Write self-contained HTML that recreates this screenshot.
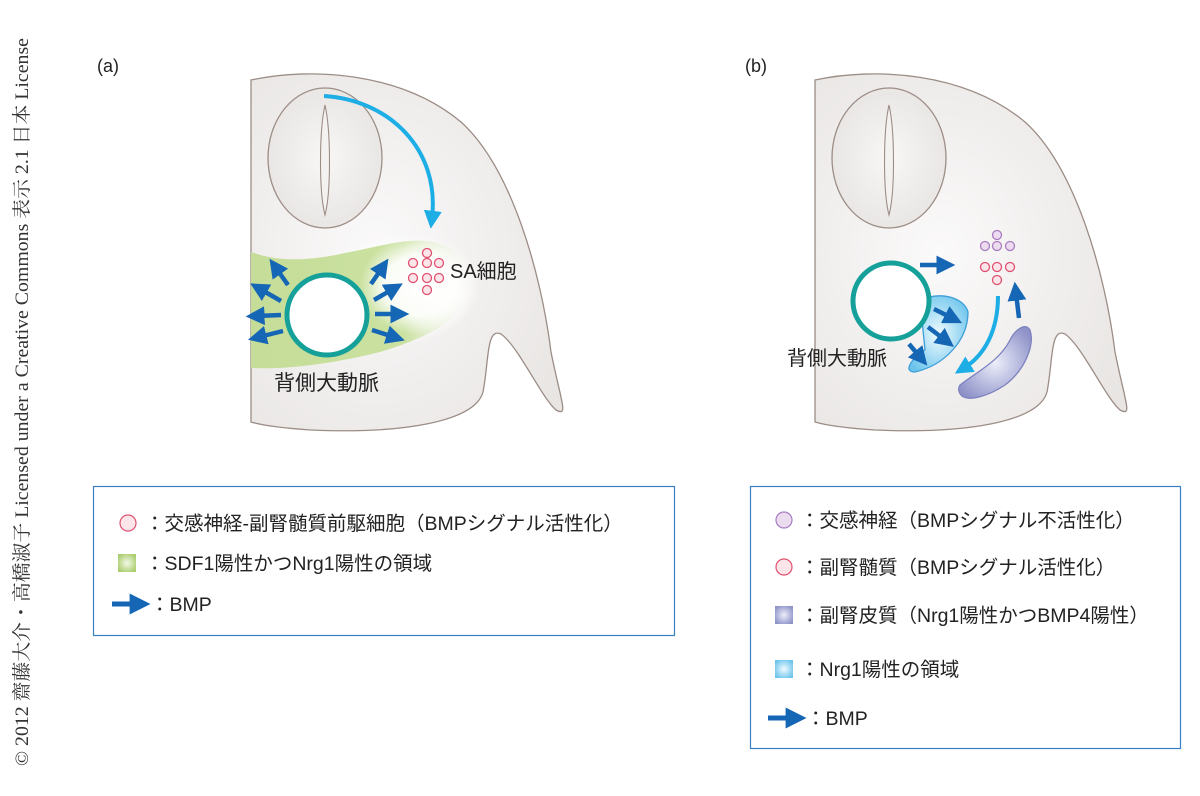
<!DOCTYPE html>
<html><head><meta charset="utf-8"><style>
body{margin:0;background:#fff;width:1200px;height:791px;overflow:hidden;font-family:"Liberation Sans","Noto Sans CJK JP",sans-serif}
</style></head><body>
<svg width="1200" height="791" viewBox="0 0 1200 791" xmlns="http://www.w3.org/2000/svg" font-family="Liberation Sans, Noto Sans CJK JP, sans-serif">
<defs>
<radialGradient id="bg" cx="0.4" cy="0.5" r="0.7"><stop offset="0" stop-color="#fbfafa"/><stop offset="1" stop-color="#e8e5e3"/></radialGradient>
<radialGradient id="nt" cx="0.5" cy="0.5" r="0.6"><stop offset="0" stop-color="#f8f7f6"/><stop offset="1" stop-color="#e6e3e1"/></radialGradient>
<radialGradient id="wh" cx="0.5" cy="0.5" r="0.5"><stop offset="0" stop-color="#fff"/><stop offset="0.6" stop-color="#fff" stop-opacity="0.9"/><stop offset="1" stop-color="#fff" stop-opacity="0"/></radialGradient>
<linearGradient id="gr" x1="0" y1="0" x2="1" y2="0"><stop offset="0" stop-color="#c3dc94"/><stop offset="0.7" stop-color="#c8e09c"/><stop offset="1" stop-color="#e8f2d6" stop-opacity="0"/></linearGradient>
<radialGradient id="gsq" cx="0.5" cy="0.5" r="0.6"><stop offset="0" stop-color="#f4f9e8"/><stop offset="1" stop-color="#a9cc6c"/></radialGradient>
<radialGradient id="psq" cx="0.5" cy="0.5" r="0.6"><stop offset="0" stop-color="#eceefa"/><stop offset="1" stop-color="#8e92c8"/></radialGradient>
<radialGradient id="bsq" cx="0.5" cy="0.5" r="0.6"><stop offset="0" stop-color="#f0fbff"/><stop offset="1" stop-color="#6cc4ec"/></radialGradient>
<marker id="ah" viewBox="0 0 10 10" refX="4" refY="5" markerWidth="4.2" markerHeight="4.2" orient="auto"><path d="M0,0L10,5L0,10z" fill="#1566b4"/></marker>
<marker id="ahc" viewBox="0 0 10 10" refX="4" refY="5" markerWidth="4.5" markerHeight="4.5" orient="auto"><path d="M0,0L10,5L0,10z" fill="#1eaee6"/></marker>
<g id="body">
<path d="M0,8 C60,-5 150,0 210,50 C260,95 290,200 300,280 C310,330 318,345 305,338 C290,325 268,275 250,262 C235,255 238,290 232,320 C224,350 150,362 60,358 C30,356 10,353 0,350 Z" fill="url(#bg)" stroke="#9c8d86" stroke-width="1.3"/>
<ellipse cx="74" cy="86" rx="57" ry="70" fill="url(#nt)" stroke="#9c8d86" stroke-width="1.3"/>
<path d="M74,33 C80,60 80,120 74,143 C68,120 68,60 74,33Z" fill="#f4f2f1" stroke="#9c8d86" stroke-width="1.1"/>
</g>
</defs>

<g transform="translate(251,72)"><use href="#body"/></g>
<g transform="translate(815,72)"><use href="#body"/></g>

<!-- (a) -->
<text x="97" y="72" font-size="18" fill="#222">(a)</text>
<ellipse cx="400" cy="290" rx="75" ry="55" fill="url(#wh)"/>
<path d="M251,252 C300,270 350,250 400,242 C440,236 470,250 470,285 C470,320 420,340 380,352 C340,362 290,370 251,368Z" fill="url(#gr)" opacity="0.95"/>
<ellipse cx="420" cy="285" rx="60" ry="50" fill="url(#wh)"/>
<path d="M324,96 C390,100 440,150 432,218" fill="none" stroke="#1eaee6" stroke-width="4" marker-end="url(#ahc)"/>
<g fill="#fde6ea" stroke="#e05070" stroke-width="1.3">
<circle cx="427" cy="253" r="4.5"/><circle cx="413" cy="263" r="4.5"/><circle cx="427" cy="263" r="4.5"/><circle cx="439" cy="263" r="4.5"/><circle cx="413" cy="278" r="4.5"/><circle cx="427" cy="278" r="4.5"/><circle cx="439" cy="278" r="4.5"/><circle cx="427" cy="290" r="4.5"/>
</g>
<text x="450" y="278" font-size="20" fill="#222">SA細胞</text>
<g stroke="#1566b4" stroke-width="4.5" marker-end="url(#ah)">
<line x1="288" y1="285" x2="276" y2="268"/><line x1="281" y1="301" x2="260" y2="289"/><line x1="281" y1="315" x2="257" y2="316"/><line x1="283" y1="331" x2="259" y2="337"/>
<line x1="371" y1="284" x2="382" y2="268"/><line x1="374" y1="300" x2="393" y2="289"/><line x1="375" y1="314" x2="398" y2="314"/><line x1="372" y1="330" x2="394" y2="337"/>
</g>
<circle cx="327" cy="315" r="40" fill="#fff" stroke="#15a09a" stroke-width="5"/>
<text x="274" y="390" font-size="21" fill="#222">背側大動脈</text>

<!-- (b) -->
<text x="745" y="72" font-size="18" fill="#222">(b)</text>
<path d="M920,300 C945,290 965,300 968,312 C968,340 945,365 915,372 C903,372 910,360 925,350Z" fill="url(#bsq)" stroke="#3d9fd8" stroke-width="1.3"/>
<path d="M960,385 C980,370 1000,360 1010,340 C1015,330 1025,322 1030,330 C1035,345 1025,370 1005,385 C990,395 970,402 962,396 C958,392 958,388 960,385Z" fill="url(#psq)" stroke="#7d82bf" stroke-width="1.3"/>
<g fill="#ecdcf0" stroke="#a97cc0" stroke-width="1.3">
<circle cx="997" cy="235" r="4.5"/><circle cx="985" cy="246" r="4.5"/><circle cx="997" cy="246" r="4.5"/><circle cx="1010" cy="246" r="4.5"/>
</g>
<g fill="#fde6ea" stroke="#e05070" stroke-width="1.3">
<circle cx="985" cy="267" r="4.5"/><circle cx="997" cy="267" r="4.5"/><circle cx="1010" cy="267" r="4.5"/><circle cx="997" cy="280" r="4.5"/>
</g>
<path d="M998,296 C998,330 985,355 964,368" fill="none" stroke="#1eaee6" stroke-width="4" marker-end="url(#ahc)"/>
<g stroke="#1566b4" stroke-width="4.5" marker-end="url(#ah)">
<line x1="920" y1="265" x2="944" y2="265"/><line x1="1019" y1="318" x2="1016" y2="293"/>
<line x1="934" y1="309" x2="952" y2="318"/><line x1="928" y1="327" x2="945" y2="340"/><line x1="909" y1="344" x2="920" y2="357"/>
</g>
<circle cx="891" cy="301" r="38" fill="#fff" stroke="#15a09a" stroke-width="5"/>
<text x="787" y="365" font-size="20" fill="#222">背側大動脈</text>

<!-- legend a -->
<rect x="93.5" y="486.5" width="581" height="149" fill="#fff" stroke="#3a80c6" stroke-width="1.2"/>
<circle cx="128" cy="523" r="8" fill="#fde6ea" stroke="#e05070" stroke-width="1.2"/>
<text x="145" y="530" font-size="19.5" fill="#222">：交感神経-副腎髄質前駆細胞（BMPシグナル活性化）</text>
<rect x="118" y="554" width="18" height="18" fill="url(#gsq)"/>
<text x="145" y="570" font-size="19.5" fill="#222">：SDF1陽性かつNrg1陽性の領域</text>
<line x1="112" y1="604" x2="138" y2="604" stroke="#1566b4" stroke-width="5" marker-end="url(#ah)"/>
<text x="150" y="611" font-size="19.5" fill="#222">：BMP</text>

<!-- legend b -->
<rect x="750.5" y="486.5" width="430" height="262" fill="#fff" stroke="#3a80c6" stroke-width="1.2"/>
<circle cx="784" cy="520" r="8" fill="#ecdcf0" stroke="#a97cc0" stroke-width="1.2"/>
<text x="800" y="527" font-size="19.5" fill="#222">：交感神経（BMPシグナル不活性化）</text>
<circle cx="784" cy="567" r="8" fill="#fde6ea" stroke="#e05070" stroke-width="1.2"/>
<text x="800" y="574" font-size="19.5" fill="#222">：副腎髄質（BMPシグナル活性化）</text>
<rect x="775" y="606" width="18" height="18" fill="url(#psq)"/>
<text x="800" y="622" font-size="19.5" fill="#222">：副腎皮質（Nrg1陽性かつBMP4陽性）</text>
<rect x="775" y="660" width="18" height="18" fill="url(#bsq)"/>
<text x="800" y="676" font-size="19.5" fill="#222">：Nrg1陽性の領域</text>
<line x1="768" y1="718" x2="794" y2="718" stroke="#1566b4" stroke-width="5" marker-end="url(#ah)"/>
<text x="806" y="725" font-size="19.5" fill="#222">：BMP</text>

<text transform="translate(28,766) rotate(-90)" font-size="19" textLength="728" lengthAdjust="spacingAndGlyphs" fill="#333" font-family="Liberation Serif, Noto Serif CJK SC, serif">© 2012 齋藤大介・高橋淑子 Licensed under a Creative Commons 表示 2.1 日本 License</text>
</svg>
</body></html>
